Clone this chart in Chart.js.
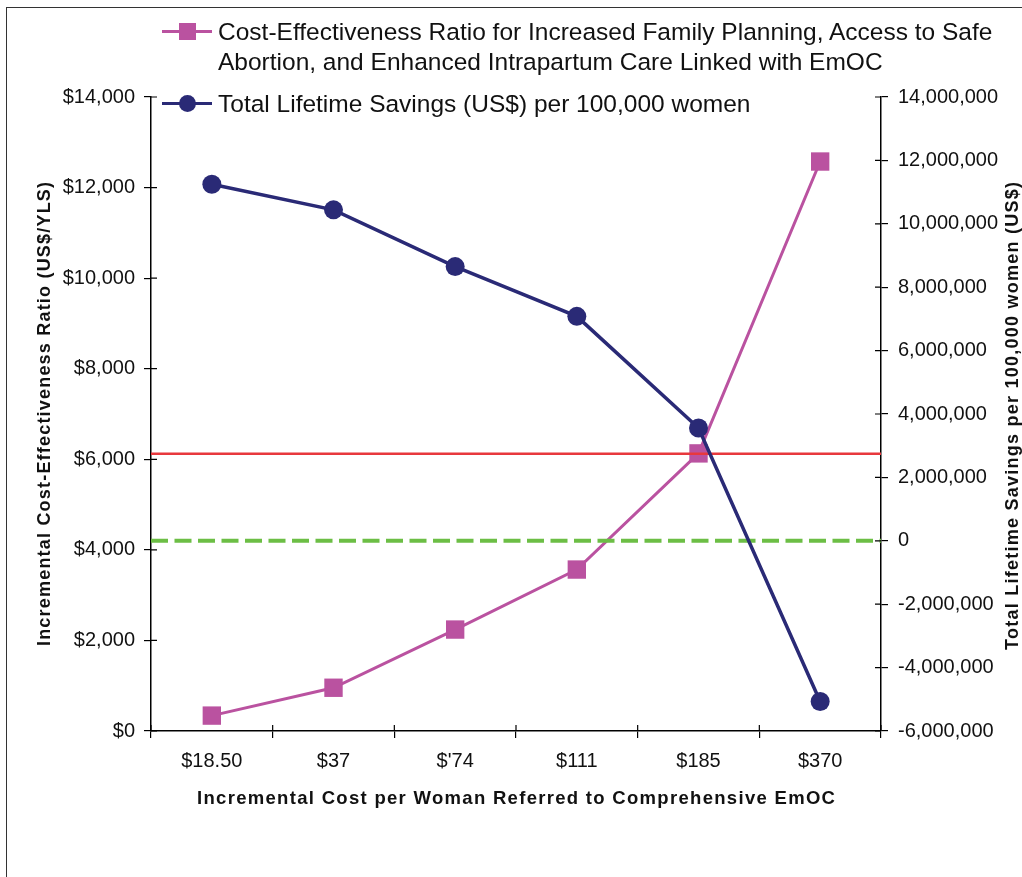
<!DOCTYPE html>
<html>
<head>
<meta charset="utf-8">
<script src="https://cdn.jsdelivr.net/npm/chart.js@4.4.1/dist/chart.umd.min.js"></script>
<style>
  html, body { margin: 0; padding: 0; background: #fff; overflow: hidden; }
  #wrap { position: relative; width: 1022px; height: 877px; }
  #frame { position: absolute; left: 6px; top: 7px; width: 1100px; height: 1000px;
           border-left: 1.5px solid #333; border-top: 1.5px solid #333; }
  #chart { position: absolute; left: 0; top: 0; }
  .lg { position: absolute; left: 162px; width: 850px; font: 24.5px "Liberation Sans", Arial, sans-serif;
        line-height: 30px; color: #111; }
  .lg .sw { position: absolute; left: 0; top: 14.5px; width: 50px; }
  .lg .ln { position: absolute; left: 0; top: -1.5px; width: 50px; height: 3px; }
  .lg .mk { position: absolute; }
  .lg .tx { display: block; margin-left: 56px; width: 800px; }
</style>
</head>
<body>
<div id="wrap">
  <div id="frame"></div>
  <canvas id="chart" width="1022" height="877"></canvas>
  <div id="legend"></div>
</div>
<script>
const categories = ['$18.50', '$37', "$'74", '$111', '$185', '$370'];
const costEffectiveness = [340, 955, 2240, 3565, 6130, 12575];
const lifetimeSavings = [11250000, 10440000, 8650000, 7080000, 3560000, -5070000];
const thresholdRatio = 6120;   // red line (left axis)
const breakEven = 0;           // green dashed line (right axis)
const leftRange = [0, 14000, 2000];
const rightRange = [-6000000, 14000000, 2000000];

const ratioLabel = 'Cost-Effectiveness Ratio for Increased Family Planning, Access to Safe Abortion, and Enhanced Intrapartum Care Linked with EmOC';
const savingsLabel = 'Total Lifetime Savings (US$) per 100,000 women';
const xTitle = 'Incremental Cost per Woman Referred to Comprehensive EmOC';
const leftTitle = 'Incremental Cost-Effectiveness Ratio (US$/YLS)';
const rightTitle = 'Total Lifetime Savings per 100,000 women (US$)';

const MAGENTA = '#BA52A0';
const NAVY = '#2A2A76';
const RED = '#E8383D';
const GREEN = '#6CBE45';
const FONT = '"Liberation Sans", Arial, sans-serif';

Chart.defaults.font.family = FONT;
Chart.defaults.color = '#111';

const refLines = {
    id: 'refLines',
    afterDatasetDraw(chart, args) {
        if (args.index !== 0) return;
        const { ctx, chartArea: a, scales } = chart;
        ctx.save();
        let y = scales.y.getPixelForValue(thresholdRatio);
        ctx.strokeStyle = RED;
        ctx.lineWidth = 2.5;
        ctx.beginPath();
        ctx.moveTo(a.left, y);
        ctx.lineTo(a.right, y);
        ctx.stroke();
        y = scales.y1.getPixelForValue(breakEven);
        ctx.strokeStyle = GREEN;
        ctx.lineWidth = 4;
        ctx.setLineDash([17, 6.5]);
        ctx.beginPath();
        ctx.moveTo(a.left, y);
        ctx.lineTo(a.right, y);
        ctx.stroke();
        ctx.restore();
    }
};

// tick marks that cross the axis lines
const innerTicks = {
    id: 'innerTicks',
    afterDraw(chart) {
        const { ctx, chartArea: a, scales } = chart;
        ctx.save();
        ctx.strokeStyle = '#000';
        ctx.lineWidth = 1.2;
        ctx.beginPath();
        const x = scales.x;
        const half = (x.getPixelForValue(1) - x.getPixelForValue(0)) / 2;
        for (let i = 0; i <= categories.length; i++) {
            const px = x.getPixelForValue(i) - half;
            ctx.moveTo(px, a.bottom - 6);
            ctx.lineTo(px, a.bottom);
        }
        scales.y.ticks.forEach(t => {
            const py = scales.y.getPixelForValue(t.value);
            ctx.moveTo(a.left, py);
            ctx.lineTo(a.left + 6, py);
        });
        scales.y1.ticks.forEach(t => {
            const py = scales.y1.getPixelForValue(t.value);
            ctx.moveTo(a.right - 6, py);
            ctx.lineTo(a.right, py);
        });
        ctx.stroke();
        ctx.restore();
    }
};

// axis titles, spaced out a little like the original; both side titles read bottom-to-top
const axisTitles = {
    id: 'axisTitles',
    afterDraw(chart) {
        const { ctx, chartArea: a } = chart;
        const midY = (a.top + a.bottom) / 2;
        const put = (text, x, y, size, spacing, rot) => {
            ctx.save();
            ctx.translate(x, y);
            ctx.rotate(rot);
            ctx.font = 'bold ' + size + 'px ' + FONT;
            ctx.letterSpacing = spacing + 'px';
            ctx.fillStyle = '#111';
            ctx.textAlign = 'center';
            ctx.textBaseline = 'middle';
            ctx.fillText(text, spacing / 2, 0);
            ctx.restore();
        };
        put(xTitle, (a.left + a.right) / 2, 798.5, 18.5, 1.3, 0);
        put(leftTitle, 45, midY, 18, 1.2, -Math.PI / 2);
        put(rightTitle, 1013, midY + 2, 18, 1.25, -Math.PI / 2);
    }
};

const ctx = document.getElementById('chart').getContext('2d');
const chart = new Chart(ctx, {
    type: 'line',
    data: {
        labels: categories,
        datasets: [{
            label: ratioLabel,
            data: costEffectiveness,
            yAxisID: 'y',
            borderColor: MAGENTA,
            backgroundColor: MAGENTA,
            borderWidth: 3,
            pointStyle: 'rect',
            pointRadius: 13,
            pointBorderWidth: 0,
            order: 1
        }, {
            label: savingsLabel,
            data: lifetimeSavings,
            yAxisID: 'y1',
            borderColor: NAVY,
            backgroundColor: NAVY,
            borderWidth: 3.5,
            pointStyle: 'circle',
            pointRadius: 9.5,
            pointBorderWidth: 0,
            order: 0
        }]
    },
    options: {
        responsive: false,
        animation: false,
        devicePixelRatio: 1,
        layout: { padding: { top: 97, left: 0, right: 0, bottom: 0 } },
        plugins: {
            legend: { display: false },
            tooltip: { enabled: false }
        },
        scales: {
            x: {
                offset: true,
                grid: { offset: true, drawOnChartArea: false, tickLength: 7, color: '#000', lineWidth: 1.2 },
                border: { color: '#000', width: 1.5 },
                ticks: { padding: 11, font: { size: 20 }, color: '#111', maxRotation: 0 },
                afterFit: s => { s.height = 146; }
            },
            y: {
                position: 'left',
                min: leftRange[0],
                max: leftRange[1],
                ticks: {
                    stepSize: leftRange[2],
                    padding: 9,
                    font: { size: 20 },
                    color: '#111',
                    callback: v => '$' + v.toLocaleString('en-US')
                },
                grid: { drawOnChartArea: false, tickLength: 7, color: '#000', lineWidth: 1.2 },
                border: { color: '#000', width: 1.5 },
                afterFit: s => { s.width = 151; }
            },
            y1: {
                position: 'right',
                min: rightRange[0],
                max: rightRange[1],
                ticks: {
                    stepSize: rightRange[2],
                    padding: 10,
                    font: { size: 20 },
                    color: '#111',
                    callback: v => v.toLocaleString('en-US')
                },
                grid: { drawOnChartArea: false, tickLength: 7, color: '#000', lineWidth: 1.2 },
                border: { color: '#000', width: 1.5 },
                afterFit: s => { s.width = 141; }
            }
        }
    },
    plugins: [refLines, innerTicks, axisTitles]
});

// html legend built from the datasets
function buildLegend() {
    const tops = [16.5, 89.2];
    const box = document.getElementById('legend');
    chart.data.datasets.forEach((ds, i) => {
        const item = document.createElement('div');
        item.className = 'lg';
        item.style.top = tops[i] + 'px';
        const mk = ds.pointStyle === 'rect'
            ? 'left:16.5px;top:-8.5px;width:17px;height:17px;'
            : 'left:16.5px;top:-8.5px;width:17px;height:17px;border-radius:50%;';
        item.innerHTML =
            '<span class="sw"><span class="ln" style="background:' + ds.borderColor + '"></span>' +
            '<span class="mk" style="' + mk + 'background:' + ds.backgroundColor + '"></span></span>' +
            '<span class="tx">' + ds.label + '</span>';
        box.appendChild(item);
    });
}

buildLegend();
</script>
</body>
</html>
